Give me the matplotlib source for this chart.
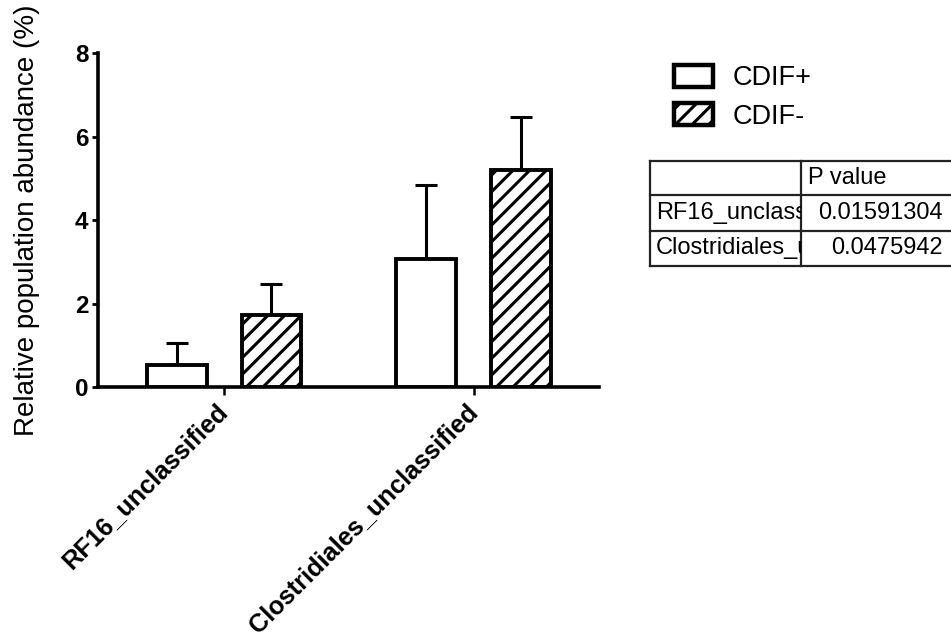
import numpy as np
import matplotlib
matplotlib.use('Agg')
import matplotlib.pyplot as plt
from matplotlib.patches import Patch

# Data
categories = ['RF16_unclassified', 'Clostridiales_unclassified']
groups = ['CDIF+', 'CDIF-']
mean_pos = [0.53, 3.08]
err_pos = [0.52, 1.77]
mean_neg = [1.72, 5.21]
err_neg = [0.76, 1.27]
yticks = [0, 2, 4, 6, 8]
table_rows = ['RF16_unclassified', 'Clostridiales_unclassified']
table_pvals = ['0.01591304', '0.0475942']
table_header = 'P value'

plt.rcParams['font.family'] = ['Liberation Sans', 'DejaVu Sans']
plt.rcParams['hatch.linewidth'] = 2.2

W, H = 951, 639
fig = plt.figure(figsize=(W / 100, H / 100), dpi=100)

# main axes, placed in pixel terms
ax = fig.add_axes([98 / W, 1 - 387 / H, (599 - 98) / W, (387 - 53.3) / H])

x = np.arange(len(categories))
off = 0.19
width = 0.24
lw = 2.8

ax.bar(x - off, mean_pos, width, color='white', edgecolor='black', linewidth=lw, zorder=3)
ax.bar(x + off, mean_neg, width, color='white', edgecolor='black', linewidth=lw,
       hatch='//', zorder=3)
ax.errorbar(x - off, mean_pos, yerr=[np.zeros(len(err_pos)), err_pos], fmt='none',
            ecolor='black', elinewidth=2.2, capsize=8, capthick=2.2, zorder=2)
ax.errorbar(x + off, mean_neg, yerr=[np.zeros(len(err_neg)), err_neg], fmt='none',
            ecolor='black', elinewidth=2.2, capsize=8, capthick=2.2, zorder=2)

ax.set_xlim(-0.505, 1.502)
ax.set_ylim(0, 8)
ax.set_yticks(yticks)
ax.set_yticklabels([str(t) for t in yticks], fontsize=17.5, fontweight='bold')
ax.set_xticks(x)
ax.set_xticklabels(categories, fontsize=18.3, fontweight='bold', rotation=45,
                   ha='right', va='center', rotation_mode='anchor')

for s in ['top', 'right']:
    ax.spines[s].set_visible(False)
for s in ['left', 'bottom']:
    ax.spines[s].set_linewidth(2.6)
ax.tick_params(axis='y', length=4, width=2, pad=3)
ax.tick_params(axis='x', length=6, width=1.8, pad=9)

ax.set_ylabel('Relative population abundance (%)', fontsize=20)
ax.yaxis.set_label_coords(-0.116, 0.5)

handles = [Patch(facecolor='white', edgecolor='black', linewidth=3.2, label=groups[0]),
           Patch(facecolor='white', edgecolor='black', linewidth=3.2, hatch='//', label=groups[1])]
fig.legend(handles=handles, loc='upper left', bbox_to_anchor=(674 / W, 1 - 65 / H),
           frameon=False, fontsize=19.5, borderpad=0, borderaxespad=0,
           handlelength=1.45, handleheight=0.85, handletextpad=0.7, labelspacing=0.45)

# P value table
tx0, tx1, ty0, ty1 = 650, 960, 160.7, 265.7
col = 801
rows_y = [160.7, 195.0, 230.7, 265.7]
tab = fig.add_axes([tx0 / W, 1 - ty1 / H, (tx1 - tx0) / W, (ty1 - ty0) / H])
tab.set_xlim(tx0, tx1)
tab.set_ylim(ty1, ty0)
tab.axis('off')
for yy in rows_y:
    tab.plot([tx0, tx1], [yy, yy], color='#222222', lw=1.6, clip_on=False)
tab.plot([tx0, tx0], [ty0, ty1], color='#222222', lw=1.6, clip_on=False)
tab.plot([col, col], [ty0, ty1], color='#222222', lw=1.6, clip_on=False)

tab.text(808, (rows_y[0] + rows_y[1]) / 2, table_header, fontsize=17,
         ha='left', va='center')
for i, v in enumerate(table_pvals):
    tab.text(943, (rows_y[i + 1] + rows_y[i + 2]) / 2, v, fontsize=17,
             ha='right', va='center')

# first column, names clipped to the cell width
namecol = fig.add_axes([tx0 / W, 1 - ty1 / H, (col - tx0) / W, (ty1 - ty0) / H])
namecol.set_xlim(tx0, col)
namecol.set_ylim(ty1, ty0)
namecol.axis('off')
for i, name in enumerate(table_rows):
    namecol.text(656, (rows_y[i + 1] + rows_y[i + 2]) / 2, name, fontsize=17,
                 ha='left', va='center', clip_on=True)

fig.savefig('out.png', dpi=100)
